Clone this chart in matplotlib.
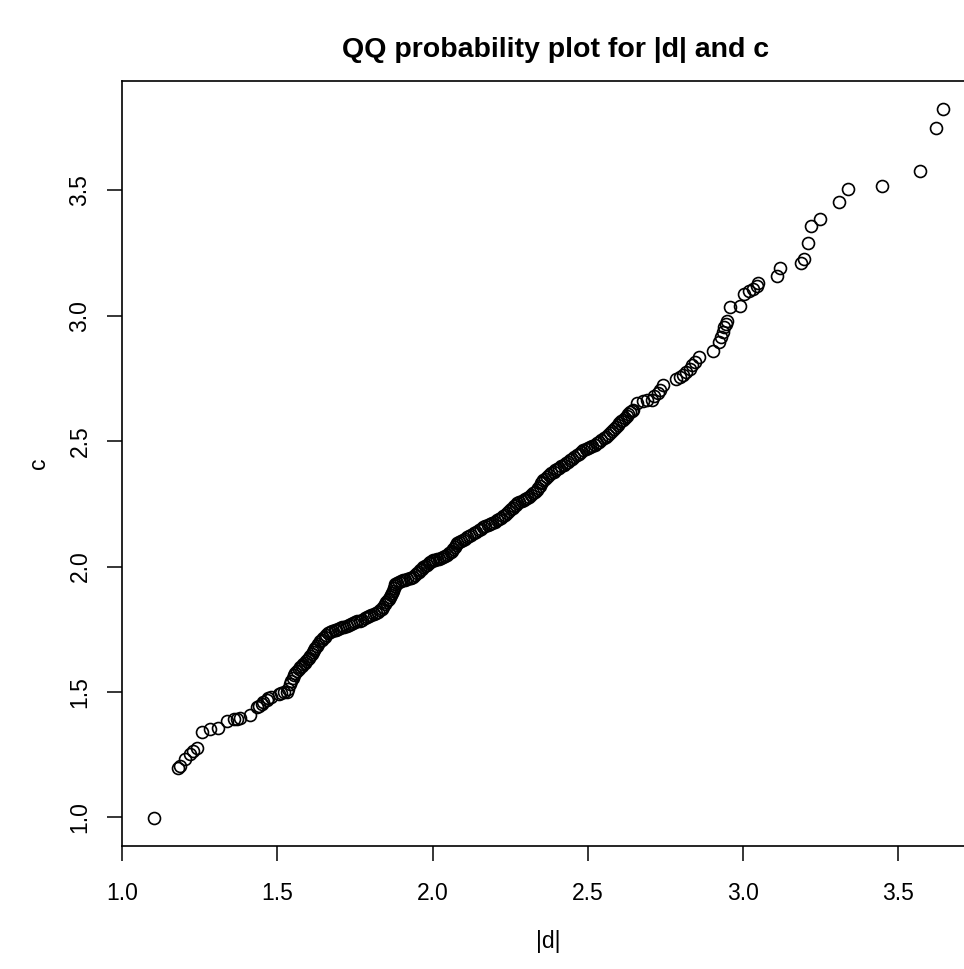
import numpy as np
import matplotlib.pyplot as plt

plt.rcParams['font.family'] = ['Liberation Sans', 'DejaVu Sans']

# sorted sample quantiles: |d| on x, c on y
d_abs = [
    1.101, 1.181, 1.187, 1.203, 1.217, 1.228, 1.241, 1.257, 1.283, 1.310,
    1.337, 1.359, 1.370, 1.380, 1.412, 1.434, 1.440, 1.450, 1.455, 1.466,
    1.470, 1.480, 1.504, 1.510, 1.520, 1.531, 1.535,
    1.541, 1.545, 1.550, 1.554, 1.558, 1.563, 1.568, 1.573,
    1.578, 1.583, 1.588, 1.593, 1.598, 1.602, 1.606,
    1.610, 1.614, 1.618, 1.622, 1.627, 1.632, 1.638,
    1.643, 1.648, 1.653, 1.658, 1.664,
    1.670, 1.677, 1.684, 1.690, 1.696, 1.702,
    1.709, 1.716, 1.723, 1.730, 1.737, 1.744,
    1.751, 1.758, 1.766, 1.773, 1.781, 1.789,
    1.796, 1.803, 1.810, 1.817, 1.824, 1.831,
    1.836, 1.841, 1.846, 1.850, 1.855, 1.859, 1.863,
    1.866, 1.869, 1.872, 1.875, 1.878, 1.880,
    1.886, 1.892, 1.898, 1.905,
    1.912, 1.919, 1.926, 1.932, 1.938,
    1.944, 1.950, 1.955, 1.960, 1.965, 1.970,
    1.976, 1.982, 1.988, 1.993, 1.998, 2.002,
    2.008, 2.014, 2.020, 2.026, 2.034,
    2.040, 2.046, 2.052, 2.058, 2.063,
    2.067, 2.071, 2.075, 2.079,
    2.085, 2.091, 2.097, 2.104, 2.111,
    2.118, 2.125, 2.133, 2.140, 2.148, 2.155, 2.163,
    2.170, 2.178, 2.186, 2.193, 2.200, 2.208,
    2.214, 2.220, 2.226, 2.232, 2.240,
    2.246, 2.252, 2.258, 2.263, 2.268, 2.273,
    2.280, 2.287, 2.293, 2.299, 2.305,
    2.311, 2.317, 2.323, 2.330, 2.337,
    2.341, 2.345, 2.349, 2.352, 2.356,
    2.362, 2.369, 2.376, 2.383, 2.390, 2.396, 2.401,
    2.408, 2.415, 2.422, 2.429, 2.436, 2.443,
    2.450, 2.457, 2.464, 2.471, 2.478, 2.485,
    2.493, 2.501, 2.508, 2.515, 2.522, 2.530,
    2.537, 2.544, 2.551, 2.558, 2.565, 2.572,
    2.578, 2.584, 2.590, 2.596, 2.602, 2.608, 2.614,
    2.620, 2.626, 2.631, 2.636, 2.641, 2.646,
    2.660, 2.677, 2.690, 2.707, 2.714, 2.725, 2.733, 2.742,
    2.785, 2.796, 2.806, 2.817, 2.828, 2.835, 2.846, 2.860,
    2.905, 2.924, 2.929, 2.935, 2.939, 2.946, 2.948, 2.959, 2.989,
    3.002, 3.018, 3.034, 3.045, 3.050, 3.111, 3.120, 3.187, 3.198,
    3.209, 3.220, 3.249, 3.308, 3.338, 3.447, 3.569, 3.621, 3.646,
]
c_val = [
    0.999, 1.198, 1.203, 1.234, 1.251, 1.264, 1.278, 1.340, 1.354, 1.356,
    1.384, 1.391, 1.394, 1.398, 1.407, 1.440, 1.445, 1.453, 1.460, 1.467,
    1.475, 1.480, 1.493, 1.495, 1.500, 1.500, 1.510,
    1.530, 1.545, 1.556, 1.566, 1.574, 1.583, 1.591, 1.598,
    1.604, 1.611, 1.617, 1.624, 1.631, 1.637, 1.642,
    1.651, 1.660, 1.668, 1.676, 1.684, 1.693, 1.702,
    1.709, 1.716, 1.721, 1.728, 1.734,
    1.738, 1.741, 1.745, 1.748, 1.751, 1.754,
    1.757, 1.760, 1.763, 1.767, 1.771, 1.774,
    1.777, 1.781, 1.784, 1.788, 1.793, 1.797,
    1.801, 1.806, 1.811, 1.815, 1.820, 1.825,
    1.832, 1.840, 1.849, 1.857, 1.865, 1.871, 1.877,
    1.886, 1.895, 1.904, 1.913, 1.921, 1.929,
    1.933, 1.937, 1.941, 1.945,
    1.948, 1.950, 1.953, 1.955, 1.957,
    1.965, 1.973, 1.980, 1.986, 1.991, 1.997,
    2.002, 2.007, 2.012, 2.017, 2.021, 2.025,
    2.027, 2.029, 2.031, 2.033, 2.037,
    2.042, 2.047, 2.052, 2.057, 2.061,
    2.069, 2.077, 2.085, 2.093,
    2.097, 2.101, 2.106, 2.111, 2.116,
    2.121, 2.127, 2.133, 2.139, 2.145, 2.150, 2.156,
    2.160, 2.165, 2.170, 2.175, 2.179, 2.184,
    2.190, 2.195, 2.200, 2.206, 2.212,
    2.220, 2.228, 2.235, 2.241, 2.247, 2.252,
    2.256, 2.260, 2.264, 2.268, 2.272,
    2.278, 2.285, 2.291, 2.297, 2.304,
    2.312, 2.322, 2.331, 2.338, 2.344,
    2.350, 2.357, 2.364, 2.371, 2.378, 2.383, 2.388,
    2.394, 2.400, 2.406, 2.411, 2.417, 2.423,
    2.430, 2.437, 2.444, 2.450, 2.457, 2.463,
    2.468, 2.473, 2.477, 2.482, 2.486, 2.491,
    2.498, 2.505, 2.512, 2.518, 2.525, 2.531,
    2.539, 2.548, 2.556, 2.565, 2.572, 2.578, 2.583,
    2.591, 2.599, 2.607, 2.614, 2.619, 2.623,
    2.652, 2.660, 2.663, 2.665, 2.679, 2.692, 2.703, 2.722,
    2.749, 2.756, 2.762, 2.776, 2.789, 2.802, 2.815, 2.835,
    2.859, 2.895, 2.913, 2.935, 2.953, 2.968, 2.979, 3.035, 3.037,
    3.088, 3.098, 3.104, 3.117, 3.128, 3.157, 3.188, 3.210, 3.225,
    3.291, 3.358, 3.384, 3.451, 3.503, 3.516, 3.577, 3.748, 3.822,
]

x_ticks = [1.0, 1.5, 2.0, 2.5, 3.0, 3.5]
y_ticks = [1.0, 1.5, 2.0, 2.5, 3.0, 3.5]

x = np.array(d_abs)
y = np.array(c_val)

fig = plt.figure(figsize=(9.64, 9.69), dpi=100)
# plot region runs a little past the right edge of the canvas
ax = fig.add_axes([122/964, 123/969, 853/964, 765/969])

ax.plot(x, y, 'o', mfc='none', mec='black', ms=8.6, mew=1.2)

# R style 4% padding on both axes
xr = x.max() - x.min()
yr = y.max() - y.min()
ax.set_xlim(x.min() - 0.04*xr, x.max() + 0.04*xr)
ax.set_ylim(y.min() - 0.04*yr, y.max() + 0.04*yr)

ax.set_xticks(x_ticks)
ax.set_yticks(y_ticks)
ax.set_xticklabels(['%.1f' % v for v in x_ticks])
ax.set_yticklabels(['%.1f' % v for v in y_ticks], rotation=90, va='center')
ax.tick_params(direction='out', length=11, width=1.1, labelsize=16.5)
ax.tick_params(axis='x', pad=15)
ax.tick_params(axis='y', pad=11)

for s in ax.spines.values():
    s.set_linewidth(1.2)

ax.set_xlabel('|d|', fontsize=16.5, labelpad=18)
ax.set_ylabel('c', fontsize=16.5, labelpad=13)
fig.text(556/964, 1 - 50/969, 'QQ probability plot for |d| and c',
         ha='center', va='center', fontsize=20.5, fontweight='bold')

fig.savefig('out.png', dpi=100)
